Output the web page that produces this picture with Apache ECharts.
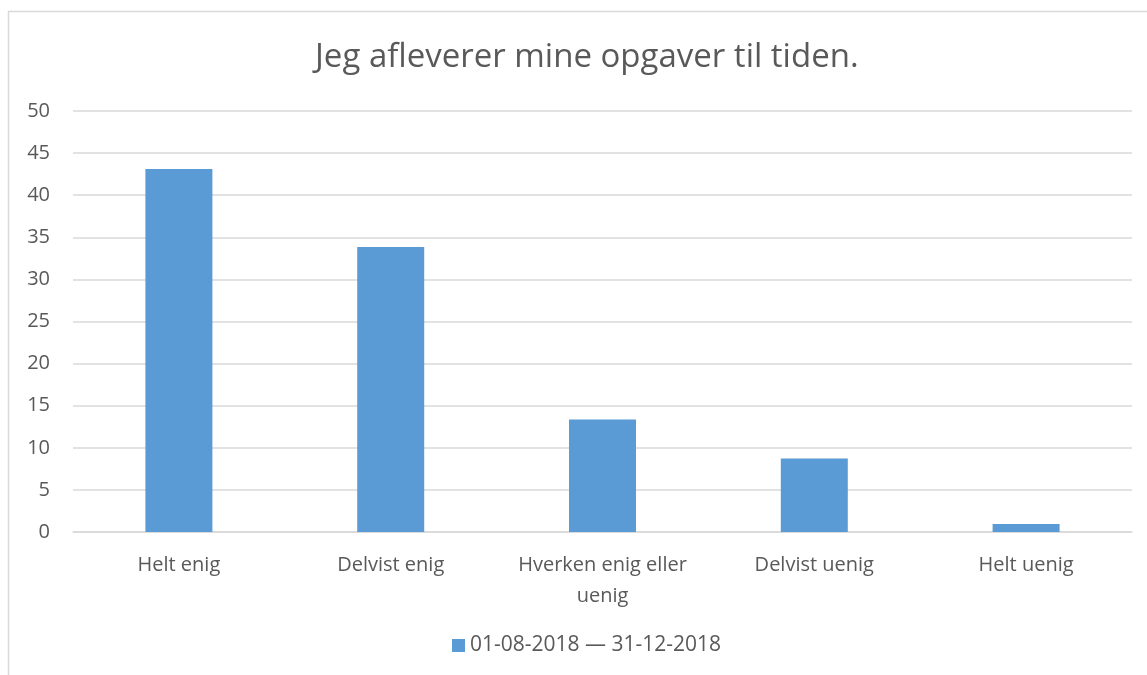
<!DOCTYPE html>
<html>
<head>
<meta charset="utf-8">
<script src="https://cdn.jsdelivr.net/npm/echarts@6/dist/echarts.min.js"></script>
<style>
    html, body { margin: 0; padding: 0; background: #fff; }
    #chart { width: 1147px; height: 675px; }
</style>
</head>
<body>
<div id="chart"></div>
<script>
    const titleText = 'Jeg afleverer mine opgaver til tiden.';
    const categories = ['Helt enig', 'Delvist enig', 'Hverken enig eller\nuenig', 'Delvist uenig', 'Helt uenig'];
    const seriesName = '01-08-2018 \u2014 31-12-2018';
    const values = [43.1, 33.85, 13.37, 8.74, 0.95];

    const textColor = '#595959';
    const fontFamily = 'Open Sans, Noto Sans, sans-serif';

    const chart = echarts.init(document.getElementById('chart'), null, { renderer: 'canvas' });

    const options = {
        animation: false,
        backgroundColor: '#fff',
        title: {
            text: titleText,
            left: 310,
            top: 36,
            textStyle: {
                color: textColor,
                fontFamily: fontFamily,
                fontWeight: 'normal',
                fontSize: 33
            }
        },
        // chart frame, only top and left edges are visible in the picture
        graphic: [{
            type: 'rect',
            shape: { x: 8.5, y: 11.5, width: 1300, height: 800 },
            style: { fill: 'none', stroke: '#d9d9d9', lineWidth: 1.5 },
            silent: true
        }],
        legend: {
            bottom: 14,
            left: 447,
            itemWidth: 13,
            itemHeight: 13,
            itemGap: 10,
            icon: 'rect',
            textStyle: {
                color: textColor,
                fontFamily: fontFamily,
                fontSize: 21
            },
            data: [seriesName]
        },
        grid: {
            left: 73,
            right: 15,
            top: 111,
            bottom: 143,
            containLabel: false
        },
        xAxis: {
            type: 'category',
            data: categories,
            axisTick: { show: false },
            axisLine: { lineStyle: { color: '#d9d9d9', width: 1.5 } },
            axisLabel: {
                color: textColor,
                fontFamily: fontFamily,
                fontSize: 20,
                margin: 18,
                lineHeight: 31,
                interval: 0
            }
        },
        yAxis: {
            type: 'value',
            min: 0,
            max: 50,
            interval: 5,
            axisLine: { show: false },
            axisTick: { show: false },
            splitLine: { lineStyle: { color: '#d9d9d9', width: 1.5 } },
            axisLabel: {
                color: textColor,
                fontFamily: fontFamily,
                fontSize: 20,
                margin: 23
            }
        },
        series: [{
            name: seriesName,
            type: 'bar',
            data: values,
            barWidth: 67,
            itemStyle: { color: '#5b9bd5' }
        }]
    };
    chart.setOption(options);
</script>
</body>
</html>
